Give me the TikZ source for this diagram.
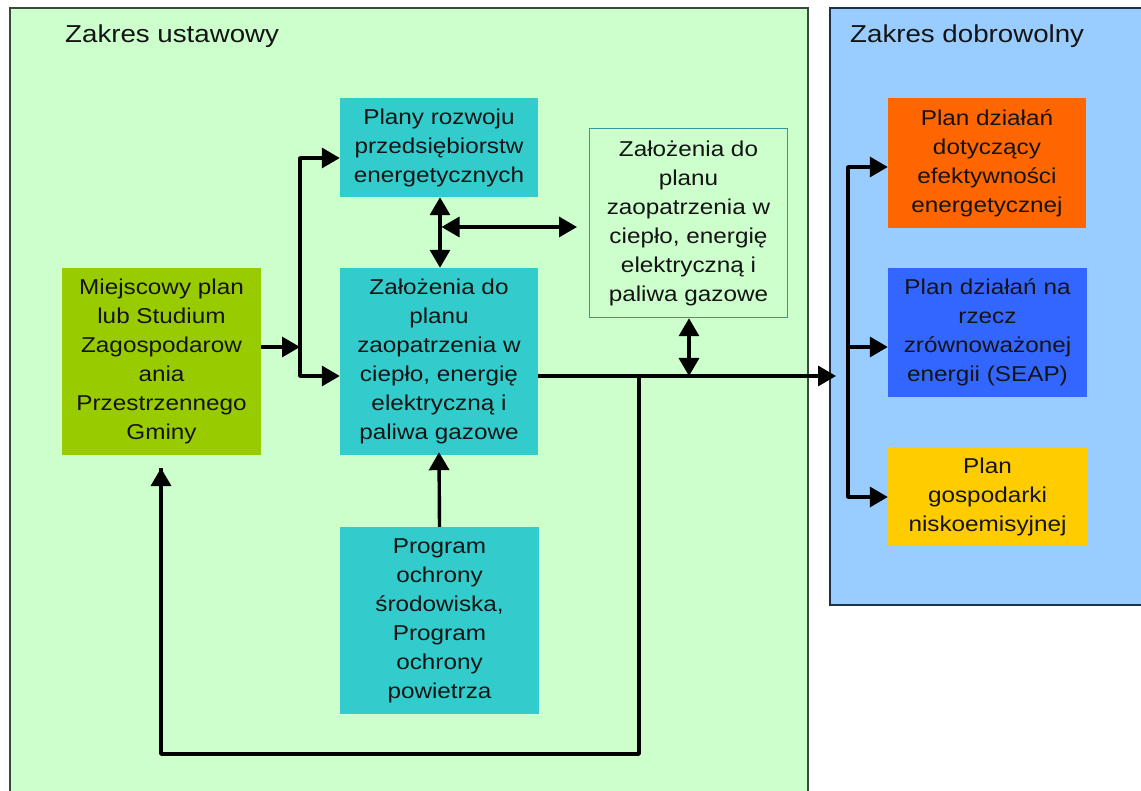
\documentclass[tikz,border=0pt]{standalone}
\usepackage{fontspec}
\setmainfont{Liberation Sans}[FakeStretch=1.13]
\usetikzlibrary{arrows.meta}
\definecolor{regGreen}{HTML}{CCFFCC}
\definecolor{regBlue}{HTML}{99CCFF}
\definecolor{teal}{HTML}{33CCCC}
\definecolor{lime}{HTML}{99CC00}
\definecolor{orng}{HTML}{FF6600}
\definecolor{bluebox}{HTML}{3366FF}
\definecolor{yell}{HTML}{FFCC00}
\definecolor{txt}{HTML}{141414}
\definecolor{tealline}{HTML}{339999}
\definecolor{greyline}{HTML}{3A4A3A}
\definecolor{navyline}{HTML}{1F2F45}
\tikzset{
  box/.style={inner sep=0pt, align=center, text=txt,
    font=\fontsize{21.5}{29}\selectfont},
  title/.style={inner sep=0pt, anchor=base west, text=txt,
    font=\fontsize{24.5}{30}\selectfont},
  conn/.style={line width=3.4pt, black},
  arr/.style={conn, -{Triangle[length=18pt,width=20pt]}},
  darr/.style={conn, {Triangle[length=18pt,width=20pt]}-{Triangle[length=18pt,width=20pt]}},
}
\begin{document}
\begin{tikzpicture}[x=1pt,y=-1pt]
\useasboundingbox (0,0) rectangle (1141,791);
\fill[white] (0,0) rectangle (1141,791);
% regions
\path[fill=regGreen, draw=greyline, line width=2.2pt] (10,830) -- (10,8) -- (808,8) -- (808,830);
\path[fill=regBlue, draw=navyline, line width=2.2pt] (1160,605) -- (830,605) -- (830,8) -- (1160,8);
\node[title] (t1) at (65,43) {Zakres ustawowy};
\node[title] (t2) at (850,43) {Zakres dobrowolny};
% boxes
\node[box, fill=lime, minimum width=199pt, minimum height=187pt] (mpz) at (161.5,361.5)
  {Miejscowy plan\\lub Studium\\Zagospodarow\\ania\\Przestrzennego\\Gminy};
\node[box, fill=teal, minimum width=198pt, minimum height=99pt] (plany) at (439,147.5)
  {Plany rozwoju\\przedsiębiorstw\\energetycznych};
\node[box, fill=teal, minimum width=198pt, minimum height=187pt] (zal) at (439,361.5)
  {Założenia do\\planu\\zaopatrzenia w\\ciepło, energię\\elektryczną i\\paliwa gazowe};
\node[box, fill=teal, minimum width=199pt, minimum height=187pt] (prog) at (439.5,620.5)
  {Program\\ochrony\\środowiska,\\Program\\ochrony\\powietrza};
\node[box, fill=regGreen, draw=tealline, line width=1.5pt, minimum width=198pt, minimum height=189pt] (zal2) at (688.5,223)
  {Założenia do\\planu\\zaopatrzenia w\\ciepło, energię\\elektryczną i\\paliwa gazowe};
\node[box, fill=orng, minimum width=198pt, minimum height=130pt] (ef) at (987,163)
  {Plan działań\\dotyczący\\efektywności\\energetycznej};
\node[box, fill=bluebox, minimum width=199pt, minimum height=129pt] (seap) at (987.5,332.5)
  {Plan działań na\\rzecz\\zrównoważonej\\energii (SEAP)};
\node[box, fill=yell, minimum width=199pt, minimum height=99pt] (pgn) at (987.5,496.5)
  {Plan\\gospodarki\\niskoemisyjnej};
% junction coordinates
\coordinate (j1) at (300,347);
\coordinate (jt) at (300,158);
\coordinate (jb) at (300,376);
\coordinate (m1) at (440,227);
\coordinate (m2) at (577,227);
\coordinate (mainEnd) at (836,376);
\coordinate (tapR) at (689,376);
\coordinate (fb1) at (639,376);
\coordinate (fb2) at (639,754);
\coordinate (fb3) at (161,754);
\coordinate (fbEnd) at (161,468);
\coordinate (r1) at (848,167);
\coordinate (r2) at (848,347);
\coordinate (r3) at (848,497);
% connectors
\draw[arr] (mpz.east |- j1) -- (j1);
\draw[conn, line cap=round] (jt) -- (jb);
\draw[arr] (jt) -- (plany.west |- jt);
\draw[arr] (jb) -- (zal.west |- jb);
\draw[darr] (plany.south -| m1) -- (zal.north -| m1);
\draw[darr] (m1) ++(1.5,0) -- (m2);
\draw[arr] (zal.east |- mainEnd) -- (mainEnd);
\draw[darr] (zal2.south -| tapR) -- (tapR);
\draw[conn, line join=round] (fb1) -- (fb2) -- (fb3) -- (fbEnd);
\draw[arr] (fb3) -- (fbEnd);
\draw[arr] (prog.north) -- ([yshift=3pt]zal.south);
\draw[conn, line cap=round] (r1) -- (r3);
\draw[arr] (r1) -- (ef.west |- r1);
\draw[arr] (r2) -- (seap.west |- r2);
\draw[arr] (r3) -- (pgn.west |- r3);
\end{tikzpicture}
\end{document}
